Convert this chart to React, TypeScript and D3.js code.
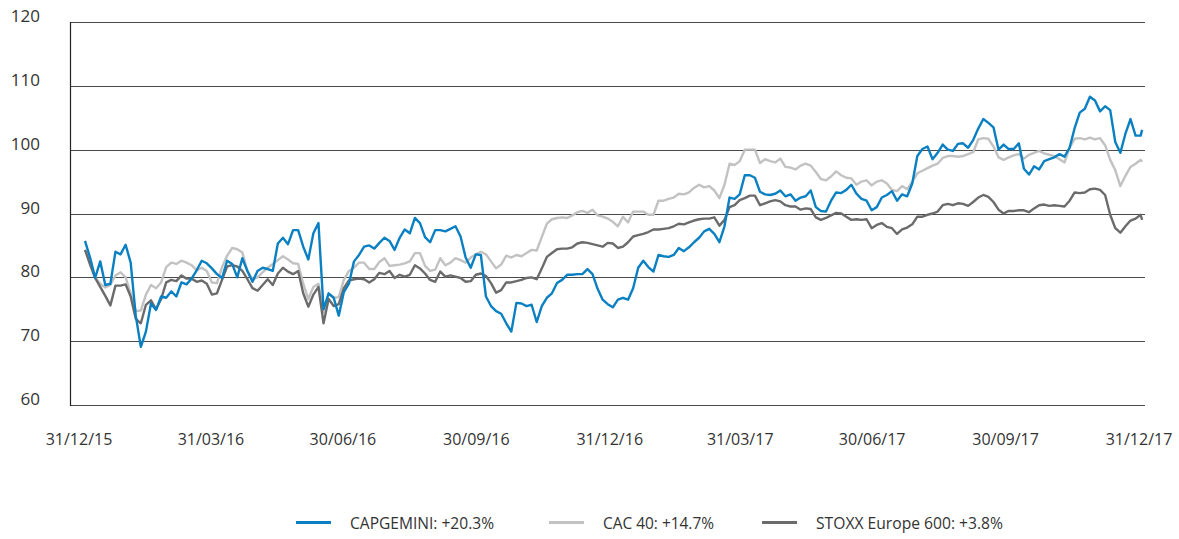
import * as d3 from 'd3';
import { useEffect, useRef } from 'react';

// closes read twice a week (Mon/Thu), rebased; first 31/12/2015, last 29/12/2017
const START = new Date(2015, 11, 31);
const END = new Date(2017, 11, 31);
const LAST = new Date(2017, 11, 29);

const capgemini = [
  85.7, 83.1, 79.9, 82.5, 78.8, 79.0, 84.0, 83.6, 85.1, 82.3,
  74.0, 69.1, 71.5, 75.9, 74.9, 77.0, 76.8, 77.8, 77.0, 79.2,
  78.9, 79.8, 81.1, 82.6, 82.2, 81.4, 80.5, 79.9, 82.6, 82.1,
  80.0, 83.0, 81.0, 79.3, 81.0, 81.5, 81.3, 81.0, 85.3, 86.2,
  85.2, 87.4, 87.4, 84.8, 82.8, 86.9, 88.5, 75.0, 77.5, 76.8,
  74.0, 77.7, 79.0, 82.5, 83.5, 84.8, 85.0, 84.5, 85.4, 86.2,
  85.7, 84.3, 86.2, 87.5, 86.9, 89.3, 88.5, 86.3, 85.5, 87.4,
  87.4, 87.2, 87.6, 88.0, 86.4, 83.1, 81.5, 83.6, 83.5, 77.0,
  75.5, 74.7, 74.3, 72.8, 71.5, 76.0, 75.9, 75.5, 75.7, 73.0,
  75.5, 76.8, 77.5, 79.1, 79.6, 80.4, 80.4, 80.5, 80.5, 81.3,
  80.5, 78.2, 76.5, 75.8, 75.3, 76.5, 76.8, 76.5, 78.3, 81.5,
  82.6, 81.6, 80.9, 83.5, 83.3, 83.2, 83.5, 84.6, 84.1, 84.7,
  85.5, 86.2, 87.2, 87.6, 86.8, 85.5, 88.0, 92.5, 92.3, 93.0,
  96.0, 96.0, 95.6, 93.4, 93.0, 92.9, 93.1, 93.6, 92.7, 93.0,
  92.0, 92.5, 92.7, 93.6, 91.0, 90.4, 90.3, 92.0, 93.3, 93.2,
  93.7, 94.5, 93.1, 92.3, 92.0, 90.5, 91.0, 92.5, 92.9, 93.5,
  92.0, 93.0, 92.7, 94.7, 99.0, 100.1, 100.5, 98.5, 99.5, 100.8,
  100.0, 99.8, 100.9, 101.0, 100.3, 101.5, 103.3, 104.8, 104.2, 103.5,
  100.0, 100.8, 100.1, 100.1, 101.0, 97.0, 96.1, 97.4, 96.9, 98.2,
  98.5, 98.8, 99.3, 98.9, 100.3, 103.4, 105.8, 106.4, 108.3, 107.7,
  106.0, 106.8, 106.2, 101.2, 99.5, 102.5, 104.8, 102.2, 102.2, 103.1,
];

const cac40 = [
  84.3, 82.8, 80.0, 79.0, 78.4, 78.8, 80.3, 80.8, 80.0, 77.5,
  74.7, 74.8, 77.3, 78.8, 78.3, 79.2, 81.6, 82.3, 82.1, 82.6,
  82.3, 81.9, 81.1, 81.5, 81.0, 79.2, 79.1, 81.6, 83.4, 84.6,
  84.4, 83.9, 81.0, 79.7, 80.0, 80.8, 81.5, 82.1, 82.7, 83.3,
  82.8, 82.2, 82.1, 79.0, 76.6, 78.5, 79.0, 74.5, 77.4, 76.8,
  76.9, 79.6, 81.0, 81.5, 82.3, 82.3, 81.3, 81.3, 82.4, 83.0,
  81.8, 81.9, 82.0, 82.2, 82.5, 83.8, 83.8, 81.8, 81.0, 81.2,
  83.0, 81.9, 82.3, 83.0, 82.7, 82.3, 83.1, 83.6, 84.0, 83.6,
  82.5, 81.4, 82.0, 83.4, 83.1, 83.5, 83.3, 83.8, 84.3, 84.2,
  86.3, 88.4, 89.1, 89.3, 89.4, 89.3, 89.7, 90.2, 90.4, 90.1,
  90.6, 89.7, 89.5, 89.2, 88.7, 88.0, 89.5, 88.6, 90.3, 90.3,
  90.3, 89.8, 89.8, 92.0, 92.0, 92.3, 92.5, 93.1, 93.0, 93.3,
  94.0, 94.5, 94.1, 94.3, 93.6, 92.4, 94.5, 97.8, 97.6, 98.2,
  100.0, 100.0, 100.0, 97.9, 98.5, 98.2, 98.0, 98.6, 97.3, 97.2,
  96.9, 97.5, 97.8, 97.5, 96.5, 95.4, 95.2, 95.8, 96.6, 96.0,
  95.6, 95.5, 94.5, 95.0, 95.2, 94.4, 95.0, 95.2, 94.7, 93.7,
  93.5, 94.3, 93.8, 95.0, 96.3, 96.7, 97.1, 97.5, 97.8, 98.7,
  99.0, 99.0, 98.9, 99.0, 99.3, 99.6, 101.6, 101.8, 101.7, 100.5,
  98.8, 98.4, 98.8, 99.1, 99.3, 98.6, 99.2, 99.5, 99.8, 99.4,
  99.2, 99.0, 98.5, 98.0, 100.3, 101.7, 101.8, 101.6, 101.9, 101.6,
  101.8, 100.7, 98.4, 96.8, 94.3, 95.9, 97.3, 97.8, 98.4, 98.1,
];

const stoxx600 = [
  84.3, 82.0, 79.9, 78.5, 77.1, 75.6, 78.7, 78.7, 78.9, 77.0,
  73.5, 72.8, 75.7, 76.4, 75.0, 76.6, 79.2, 79.6, 79.4, 80.3,
  79.8, 79.8, 79.3, 79.5, 79.0, 77.3, 77.5, 79.6, 81.7, 81.9,
  81.7, 81.0, 79.7, 78.3, 77.9, 78.8, 79.7, 78.8, 80.6, 81.5,
  80.9, 80.5, 81.0, 77.5, 75.4, 77.3, 78.5, 72.8, 76.6, 75.5,
  75.8, 78.3, 79.5, 79.7, 79.8, 79.7, 79.2, 79.7, 80.7, 80.5,
  81.0, 79.9, 80.4, 80.1, 80.4, 81.9, 81.4, 80.6, 79.6, 79.3,
  80.9, 80.1, 80.3, 80.1, 79.9, 79.3, 79.4, 80.4, 80.6, 80.2,
  79.1, 77.6, 78.0, 79.2, 79.2, 79.4, 79.6, 79.9, 80.0, 79.7,
  81.4, 83.2, 83.8, 84.4, 84.5, 84.5, 84.7, 85.3, 85.5, 85.4,
  85.2, 85.0, 84.8, 85.4, 85.3, 84.6, 84.8, 85.5, 86.4, 86.6,
  86.8, 87.1, 87.5, 87.5, 87.6, 87.7, 88.0, 88.4, 88.3, 88.6,
  88.9, 89.1, 89.2, 89.2, 89.4, 88.1, 89.0, 91.0, 91.3, 92.1,
  92.4, 92.8, 92.8, 91.3, 91.6, 91.9, 92.1, 91.9, 91.3, 91.1,
  91.1, 90.6, 90.8, 90.7, 89.4, 89.0, 89.3, 89.7, 90.1, 90.0,
  89.5, 89.0, 89.1, 89.0, 89.1, 87.7, 88.2, 88.5, 87.9, 87.7,
  86.8, 87.5, 87.8, 88.3, 89.5, 89.5, 89.8, 90.0, 90.3, 91.3,
  91.5, 91.3, 91.6, 91.5, 91.2, 91.8, 92.5, 92.9, 92.6, 91.8,
  90.6, 90.0, 90.4, 90.4, 90.5, 90.5, 90.2, 90.8, 91.3, 91.4,
  91.2, 91.3, 91.2, 91.1, 92.0, 93.3, 93.2, 93.3, 93.8, 93.9,
  93.7, 92.9, 89.8, 87.7, 87.0, 88.0, 88.9, 89.2, 89.8, 89.0,
];

const xTickDates = [
  new Date(2015, 11, 31), new Date(2016, 2, 31), new Date(2016, 5, 30),
  new Date(2016, 8, 30), new Date(2016, 11, 31), new Date(2017, 2, 31),
  new Date(2017, 5, 30), new Date(2017, 8, 30), new Date(2017, 11, 31),
];
const xTickLabels = ['31/12/15', '31/03/16', '30/06/16', '30/09/16', '31/12/16', '31/03/17', '30/06/17', '30/09/17', '31/12/17'];
const yTicks = [60, 70, 80, 90, 100, 110, 120];

const seriesNames = ['CAPGEMINI: +20.3%', 'CAC 40: +14.7%', 'STOXX Europe 600: +3.8%'];
const seriesColors = ['#0a80c2', '#c2c2c2', '#6b6b6b'];

function App() {
  const ref = useRef<SVGSVGElement>(null);

  useEffect(() => {
    const left = 70, right = 1145, top = 22, bottom = 405;

    const svg = d3.select(ref.current);
    svg.selectAll('*').remove();

    const n = capgemini.length;
    const dates = capgemini.map((_, i) => (i < n - 1 ? d3.timeHour.offset(START, 84 * i) : LAST));

    const x = d3.scaleTime().domain([START, END]).range([85, 1145]);
    const y = d3.scaleLinear().domain([60, 120]).range([bottom, top]);

    // grid
    svg.append('g')
      .selectAll('line')
      .data(yTicks)
      .join('line')
      .attr('x1', left)
      .attr('x2', right)
      .attr('y1', d => Math.round(y(d)) + 0.5)
      .attr('y2', d => Math.round(y(d)) + 0.5)
      .attr('stroke', '#4a4a4a')
      .attr('stroke-width', 1);

    svg.append('line')
      .attr('x1', left + 0.5).attr('x2', left + 0.5)
      .attr('y1', top).attr('y2', bottom + 1)
      .attr('stroke', '#222').attr('stroke-width', 1.2);

    svg.append('g')
      .selectAll('text')
      .data(yTicks)
      .join('text')
      .attr('x', 40)
      .attr('y', d => y(d))
      .attr('text-anchor', 'end')
      .style('font-family', '"Open Sans", sans-serif')
      .style('font-size', '17px')
      .style('fill', '#333')
      .text(d => d);

    svg.append('g')
      .selectAll('text')
      .data(xTickDates)
      .join('text')
      .attr('x', d => x(d) - 6)
      .attr('y', 445)
      .attr('text-anchor', 'middle')
      .style('font-family', '"Open Sans", sans-serif')
      .style('font-size', '16px')
      .style('fill', '#333')
      .text((_, i) => xTickLabels[i]);

    const line = d3.line<number>()
      .x((_, i) => x(dates[i]))
      .y(d => y(d));

    const series = [cac40, stoxx600, capgemini];
    const colors = [seriesColors[1], seriesColors[2], seriesColors[0]];
    series.forEach((s, i) => {
      svg.append('path')
        .datum(s)
        .attr('d', line)
        .attr('fill', 'none')
        .attr('stroke', colors[i])
        .attr('stroke-width', 2.4)
        .attr('stroke-linejoin', 'round');
    });

    // legend
    const legendX = [296, 549, 762];
    const legendW = [144, 111, 187];
    const legend = svg.append('g');
    seriesNames.forEach((name, i) => {
      legend.append('line')
        .attr('x1', legendX[i]).attr('x2', legendX[i] + 35)
        .attr('y1', 522.5).attr('y2', 522.5)
        .attr('stroke', seriesColors[i])
        .attr('stroke-width', 2.8);
      legend.append('text')
        .attr('x', legendX[i] + 54)
        .attr('y', 529)
        .attr('textLength', legendW[i])
        .attr('lengthAdjust', 'spacingAndGlyphs')
        .style('font-family', '"Open Sans", sans-serif')
        .style('font-size', '16px')
        .style('fill', '#333')
        .text(name);
    });
  }, []);

  return (
    <div style={{ position: 'absolute', left: 0, top: 0 }}>
      <svg ref={ref} width={1179} height={539} style={{ display: 'block' }} />
    </div>
  );
}

export default App;
